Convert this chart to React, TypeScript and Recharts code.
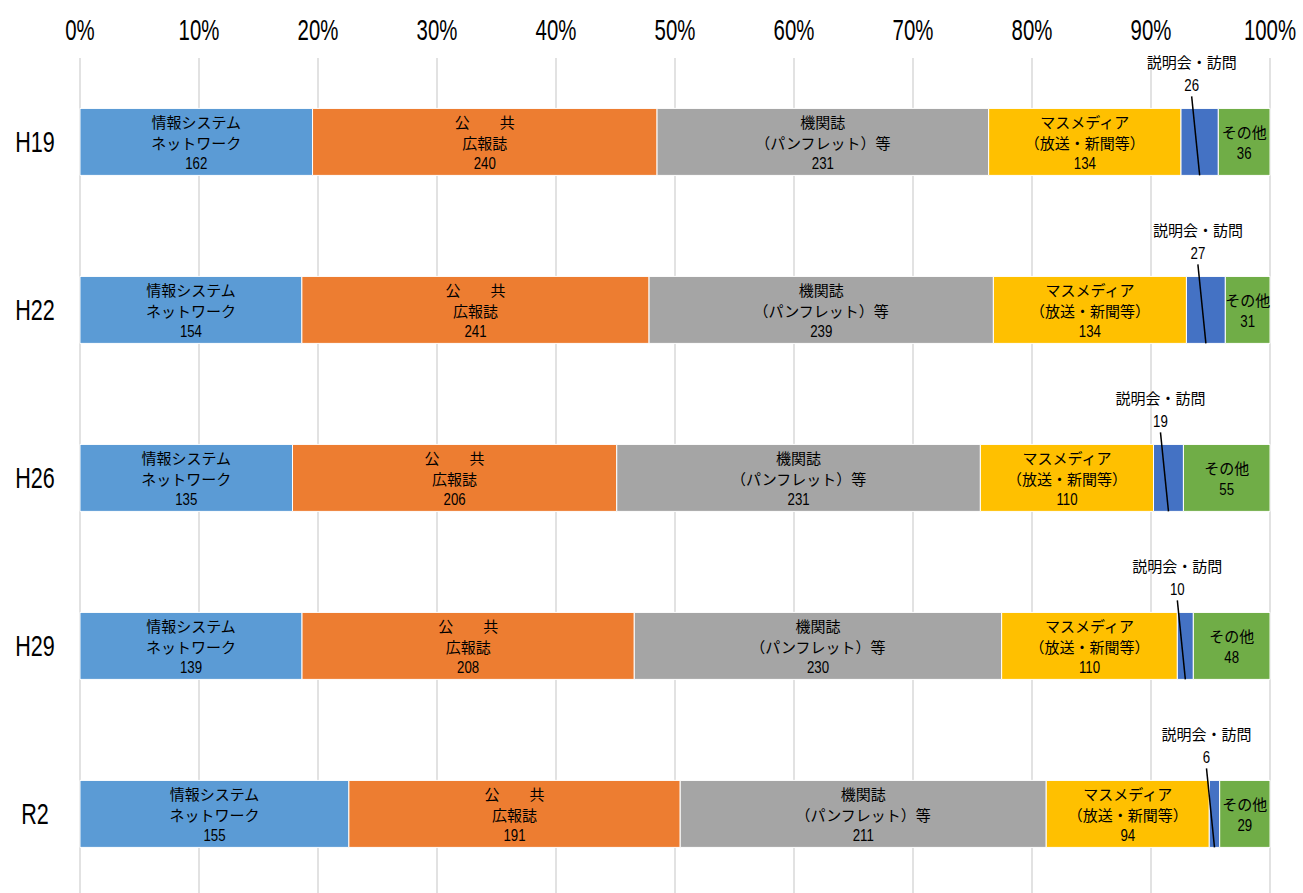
import React from "react";
import {
  BarChart,
  Bar,
  XAxis,
  YAxis,
  CartesianGrid,
  LabelList,
} from "recharts";

const categories = ["H19", "H22", "H26", "H29", "R2"];
const networkValues = [162, 154, 135, 139, 155];
const koukyouValues = [240, 241, 206, 208, 191];
const kikanshiValues = [231, 239, 231, 230, 211];
const massMediaValues = [134, 134, 110, 110, 94];
const setsumeikaiValues = [26, 27, 19, 10, 6];
const sonotaValues = [36, 31, 55, 48, 29];
const xTicks = [0, 0.1, 0.2, 0.3, 0.4, 0.5, 0.6, 0.7, 0.8, 0.9, 1];

const JP_FONT = "'Noto Sans CJK JP', sans-serif";
const NUM_FONT = "'Liberation Sans', 'Noto Sans CJK JP', sans-serif";

const data = categories.map((name, i) => ({
  name,
  network: networkValues[i],
  koukyou: koukyouValues[i],
  kikanshi: kikanshiValues[i],
  mass: massMediaValues[i],
  setsumei: setsumeikaiValues[i],
  sonota: sonotaValues[i],
}));

const series = [
  { key: "network", color: "#5B9BD5", lines: ["情報システム", "ネットワーク"] },
  { key: "koukyou", color: "#ED7D31", lines: ["公　　共", "広報誌"] },
  { key: "kikanshi", color: "#A5A5A5", lines: ["機関誌", "（パンフレット）等"] },
  { key: "mass", color: "#FFC000", lines: ["マスメディア", "（放送・新聞等）"] },
  { key: "setsumei", color: "#4472C4", lines: ["説明会・訪問"] },
  { key: "sonota", color: "#70AD47", lines: ["その他"] },
];

// condensed-looking digits: plain sans squeezed horizontally
const NarrowText = ({ x, y, size, scale, children }: any) => (
  <text
    transform={`translate(${x} ${y}) scale(${scale} 1)`}
    x={0}
    y={0}
    textAnchor="middle"
    dominantBaseline="central"
    fontSize={size}
    fontFamily={NUM_FONT}
    fill="#000"
  >
    {children}
  </text>
);

// several Japanese lines in one text element
const JpLines = ({ x, y, lines, step }: any) => (
  <text
    x={x}
    y={y}
    textAnchor="middle"
    dominantBaseline="central"
    fontSize={15}
    fontFamily={JP_FONT}
    fill="#000"
  >
    {lines.map((t: string, i: number) => (
      <tspan key={i} x={x} dy={i === 0 ? 0 : step}>
        {t}
      </tspan>
    ))}
  </text>
);

const makeInsideLabel = (key: string, lines: string[]) => (props: any) => {
  const { x, y, width, height, index } = props;
  const cx = x + width / 2;
  const cy = y + height / 2;
  const count = lines.length + 1;
  const step = 21;
  const start = cy - ((count - 1) * step) / 2;
  return (
    <g>
      <JpLines x={cx} y={start} lines={lines} step={step} />
      <NarrowText x={cx} y={start + lines.length * step} size={17} scale={0.78}>
        {(data as any)[index][key]}
      </NarrowText>
    </g>
  );
};

const setsumeiLabel = (props: any) => {
  const { x, y, width, height, index } = props;
  const cx = x + width / 2;
  const lx = cx - 8;
  return (
    <g>
      <JpLines x={lx} y={y - 47} lines={["説明会・訪問"]} step={0} />
      <NarrowText x={lx} y={y - 24} size={17} scale={0.78}>
        {data[index].setsumei}
      </NarrowText>
      <line x1={lx} y1={y - 12} x2={cx} y2={y + height} stroke="#000" strokeWidth={1.5} />
    </g>
  );
};

const XTick = (props: any) => {
  const { x, payload } = props;
  return (
    <NarrowText x={x} y={29} size={30} scale={0.68}>
      {`${Math.round(payload.value * 100)}%`}
    </NarrowText>
  );
};

const YTick = (props: any) => {
  const { y, payload } = props;
  return (
    <NarrowText x={35} y={y} size={30} scale={0.72}>
      {payload.value}
    </NarrowText>
  );
};

const App = () => {
  return (
    <div
      style={{
        position: "absolute",
        left: 0,
        top: 0,
        width: 1303,
        height: 893,
        overflow: "hidden",
        background: "#fff",
      }}
    >
      <BarChart
        width={1303}
        height={898}
        data={data}
        layout="vertical"
        stackOffset="expand"
        barCategoryGap="30%"
        margin={{ top: 0, right: 33, bottom: 0, left: 0 }}
      >
        <CartesianGrid horizontal={false} stroke="#D9D9D9" strokeWidth={1.5} />
        <XAxis
          type="number"
          orientation="top"
          domain={[0, 1]}
          ticks={xTicks}
          height={58}
          axisLine={false}
          tickLine={false}
          tick={<XTick />}
          interval={0}
        />
        <YAxis
          type="category"
          dataKey="name"
          width={80}
          axisLine={false}
          tickLine={false}
          tick={<YTick />}
        />
        {series.map((s) => (
          <Bar
            key={s.key}
            dataKey={s.key}
            stackId="a"
            fill={s.color}
            stroke="#fff"
            strokeWidth={1}
            isAnimationActive={false}
          >
            <LabelList
              dataKey={s.key}
              content={s.key === "setsumei" ? setsumeiLabel : makeInsideLabel(s.key, s.lines)}
            />
          </Bar>
        ))}
      </BarChart>
    </div>
  );
};

export default App;
